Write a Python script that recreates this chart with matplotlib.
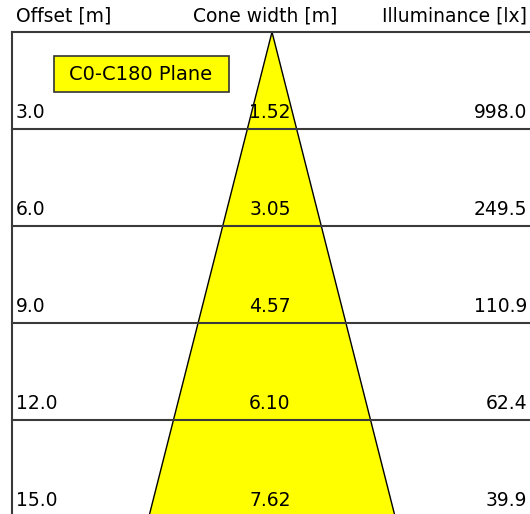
import numpy as np
import matplotlib.pyplot as plt
from matplotlib.patches import Polygon, FancyBboxPatch

offsets = [3.0, 6.0, 9.0, 12.0, 15.0]
cone_widths = [1.52, 3.05, 4.57, 6.10, 7.62]
illuminance = [998.0, 249.5, 110.9, 62.4, 39.9]
plane_label = "C0-C180 Plane"

# pixels per metre, apex position in pixels
s = 32.33
ax0, ay0 = 272.0, 32.0
W, H = 530, 514


def px(x):
    return (x - ax0) / s


def py(y):
    return (y - ay0) / s


fig = plt.figure(figsize=(W / 100, H / 100), dpi=100)
ax = fig.add_axes([0, 0, 1, 1])
ax.set_xlim(px(0), px(W))
ax.set_ylim(py(H), py(0))
ax.axis('off')

# cone
half = cone_widths[-1] / 2
cone = Polygon([(0, 0), (-half, offsets[-1]), (half, offsets[-1])],
               closed=True, facecolor='#ffff00', edgecolor='black', lw=1.0, zorder=2)
ax.add_patch(cone)

# frame
line_col = '#3a3a3a'
xl = px(11.8)
ax.plot([xl, xl], [0, py(H)], color=line_col, lw=1.5, zorder=3)
ax.plot([xl, px(W)], [0, 0], color=line_col, lw=1.5, zorder=3)
for off in offsets[:-1]:
    ax.plot([xl, px(W)], [off, off], color=line_col, lw=1.5, zorder=3)

fs = 13.5
# header
ax.text(px(16), py(15.5), "Offset [m]", fontsize=fs, ha='left', va='center')
ax.text(px(265), py(15.5), "Cone width [m]", fontsize=fs, ha='center', va='center')
ax.text(px(527), py(15.5), "Illuminance [lx]", fontsize=fs, ha='right', va='center')

# rows
for off, w, lx in zip(offsets, cone_widths, illuminance):
    yc = off - 0.52
    ax.text(px(16), yc, f"{off:.1f}", fontsize=fs, ha='left', va='center', zorder=4)
    ax.text(px(270), yc, f"{w:.2f}", fontsize=fs, ha='center', va='center', zorder=4)
    ax.text(px(527), yc, f"{lx:.1f}", fontsize=fs, ha='right', va='center', zorder=4)

# plane label box
box = FancyBboxPatch((px(54), py(56)), (229 - 54) / s, (92 - 56) / s,
                     boxstyle='square,pad=0', facecolor='#ffff00',
                     edgecolor='#333333', lw=1.2, zorder=4)
ax.add_patch(box)
ax.text(px(141), py(75), plane_label, fontsize=14, ha='center', va='center', zorder=5)

fig.savefig('out.png', dpi=100)
